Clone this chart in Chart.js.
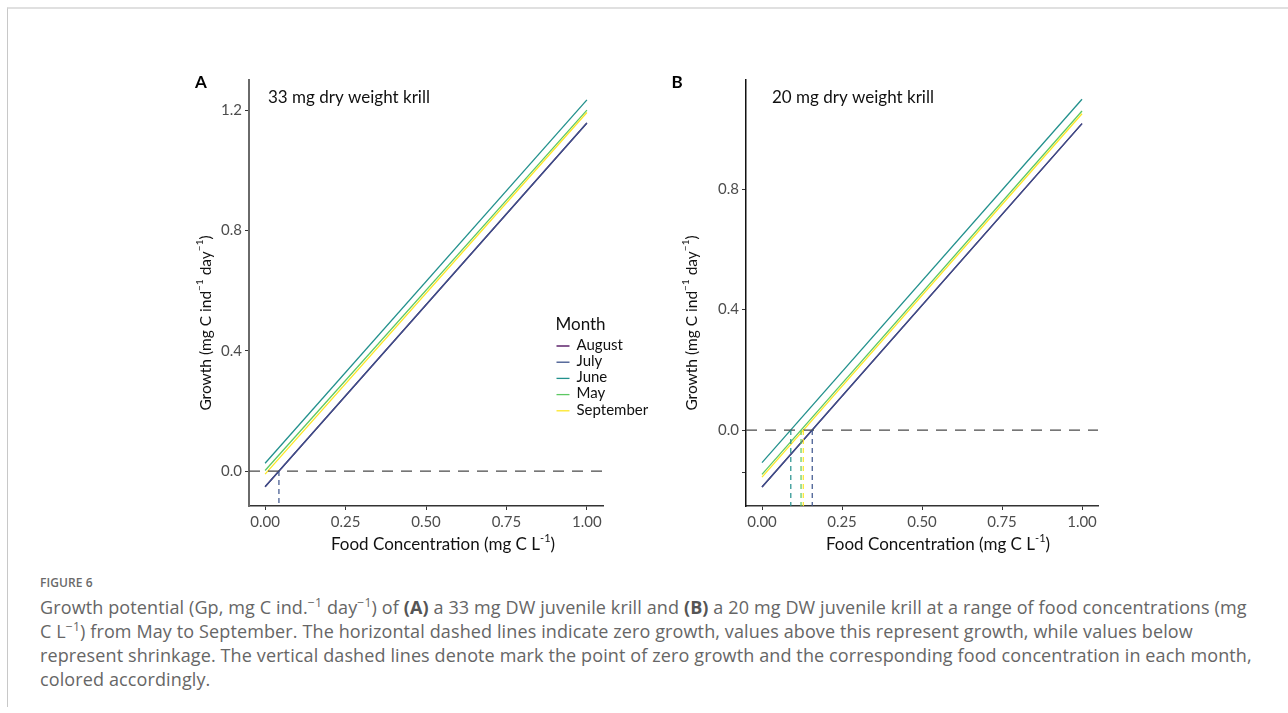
<!DOCTYPE html>
<html>
<head>
<meta charset="utf-8">
<script src="https://cdn.jsdelivr.net/npm/chart.js@4.4.1/dist/chart.umd.min.js"></script>
<style>
  html, body { margin: 0; padding: 0; background: #fff; }
  body { width: 1288px; height: 713px; position: relative; overflow: hidden; }
  #frame { position: absolute; left: 7px; top: 7px; width: 1300px; height: 698px;
           border-top: 2px solid #e0e0e0; border-left: 1px solid #c8c8c8; }
  canvas { position: absolute; }
  #panelA { left: 180px; top: 60px; }
  #panelB { left: 660px; top: 60px; }
  #caption { position: absolute; left: 40px; top: 571px; color: #666;
             font-family: 'Open Sans', sans-serif; font-size: 18px; letter-spacing: 0.12px;
             line-height: 24px; white-space: nowrap; }
  #caption .fig { font-size: 12px; font-weight: 600; color: #6a6a6a; letter-spacing: 0.1px; line-height: 24px; }
  #caption sup { font-size: 0.68em; line-height: 0; vertical-align: 0.55em; }
  #caption b { color: #555; }
</style>
</head>
<body>
<div id="frame"></div>
<canvas id="panelA" width="480" height="500"></canvas>
<canvas id="panelB" width="480" height="500"></canvas>
<div id="caption">
  <div class="fig">FIGURE 6</div>
  Growth potential (Gp, mg C ind.<sup>−1</sup> day<sup>−1</sup>) of <b>(A)</b> a 33 mg DW juvenile krill and <b>(B)</b> a 20 mg DW juvenile krill at a range of food concentrations (mg<br>
  C L<sup>−1</sup>) from May to September. The horizontal dashed lines indicate zero growth, values above this represent growth, while values below<br>
  represent shrinkage. The vertical dashed lines denote mark the point of zero growth and the corresponding food concentration in each month,<br>
  colored accordingly.
</div>
<script>
// Food concentration (mg C L-1) at the two ends of each growth line
const foodConc = [0, 1];
const months = ['August', 'July', 'June', 'May', 'September'];

// Growth potential (mg C ind-1 day-1), 33 mg DW krill
const growthA_August    = [-0.052, 1.157];
const growthA_July      = [-0.052, 1.157];
const growthA_June      = [ 0.026, 1.234];
const growthA_May       = [ 0.002, 1.200];
const growthA_September = [-0.010, 1.192];

// Growth potential (mg C ind-1 day-1), 20 mg DW krill
const growthB_August    = [-0.189, 1.017];
const growthB_July      = [-0.189, 1.017];
const growthB_June      = [-0.108, 1.098];
const growthB_May       = [-0.147, 1.059];
const growthB_September = [-0.156, 1.050];

// Food concentration at zero growth
const zeroMonthsA = ['July'];
const zeroFoodA   = [0.043];
const zeroMonthsB = ['June', 'May', 'September', 'July'];
const zeroFoodB   = [0.090, 0.122, 0.129, 0.157];

// Tick positions and labels
const xTicks = [0, 0.25, 0.5, 0.75, 1];
const xTickLabels = ['0.00', '0.25', '0.50', '0.75', '1.00'];
const yTicksA = [0, 0.4, 0.8, 1.2];
const yTickLabelsA = ['0.0', '0.4', '0.8', '1.2'];
const yTicksB = [-0.14, 0, 0.4, 0.8];
const yTickLabelsB = ['', '0.0', '0.4', '0.8'];

const monthColors = {
  August: '#440154', July: '#3B528B', June: '#21908C', May: '#5DC863', September: '#FDE725'
};
const FONT = 'Lato, "Open Sans", sans-serif';

// Later months in the list sit on top; reference lines go over everything
function buildDatasets(series, zeroMonths, zeroFood, yMin, xLim) {
  const n = months.length;
  const ds = months.map((m, k) => ({
    label: m,
    data: foodConc.map((f, i) => ({ x: f, y: series[m][i] })),
    borderColor: monthColors[m], borderWidth: 1.3,
    pointRadius: 0, fill: false, tension: 0, order: 10 + n - k
  }));
  ds.push({
    label: 'zero growth',
    data: [{ x: xLim[0], y: 0 }, { x: xLim[1], y: 0 }],
    borderColor: '#4a4a4a', borderWidth: 1.2, borderDash: [11, 8],
    pointRadius: 0, fill: false, order: 5
  });
  zeroMonths.forEach((m, i) => ds.push({
    label: m + ' zero growth',
    data: [{ x: zeroFood[i], y: 0 }, { x: zeroFood[i], y: yMin }],
    borderColor: monthColors[m], borderWidth: 1.2, borderDash: [5, 4],
    pointRadius: 0, fill: false, order: 1
  }));
  return ds;
}

// Draws text runs with superscripts, centred on (x, y)
function richText(ctx, parts, x, y, size) {
  const big = size + 'px ' + FONT, small = Math.round(size * 0.66) + 'px ' + FONT;
  let total = 0;
  parts.forEach(p => { ctx.font = p.sup ? small : big; total += ctx.measureText(p.t).width; });
  let cx = x - total / 2;
  ctx.textAlign = 'left';
  parts.forEach(p => {
    ctx.font = p.sup ? small : big;
    ctx.fillText(p.t, cx, p.sup ? y - size * 0.38 : y);
    cx += ctx.measureText(p.t).width;
  });
}

const decor = {
  id: 'decor',
  afterDraw(chart, args, o) {
    const ctx = chart.ctx;
    ctx.save();
    ctx.fillStyle = '#000';
    ctx.textBaseline = 'middle';
    ctx.textAlign = 'center';
    ctx.font = 'bold 17px ' + FONT;
    ctx.fillText(o.letter, o.letterX, o.letterY);

    ctx.fillStyle = '#111';
    ctx.textAlign = 'left';
    ctx.font = '17px ' + FONT;
    ctx.fillText(o.note, o.noteX, o.noteY);

    richText(ctx, [{ t: 'Food Concentration (mg C L' }, { t: '-1', sup: true }, { t: ')' }],
             o.xTitleX, o.xTitleY, 17);

    ctx.save();
    ctx.translate(o.yTitleX, o.yTitleY);
    ctx.rotate(-Math.PI / 2);
    richText(ctx, [{ t: 'Growth (mg C ind' }, { t: '−1', sup: true }, { t: ' day' }, { t: '−1', sup: true }, { t: ')' }],
             0, 0, 15.5);
    ctx.restore();

    if (o.legend) {
      const L = o.legend;
      ctx.textAlign = 'left';
      ctx.fillStyle = '#111';
      ctx.font = '17px ' + FONT;
      ctx.fillText('Month', L.x, L.y);
      ctx.font = '15px ' + FONT;
      months.forEach((m, i) => {
        const y = L.y + 20 + i * 16.2;
        ctx.strokeStyle = monthColors[m];
        ctx.lineWidth = 1.3;
        ctx.beginPath();
        ctx.moveTo(L.x + 1, y + 1);
        ctx.lineTo(L.x + 14, y + 1);
        ctx.stroke();
        ctx.fillStyle = '#111';
        ctx.fillText(m, L.x + 21, y);
      });
    }
    ctx.restore();
  }
};

function makeChart(id, series, zeroMonths, zeroFood, yMin, yMax, yTicks, yLabels, axisW, rightPad, yAxisColor, yAxisWidth, dec) {
  const xLim = [-0.05, 1.05];
  return new Chart(document.getElementById(id), {
    type: 'line',
    data: { datasets: buildDatasets(series, zeroMonths, zeroFood, yMin, xLim) },
    options: {
      responsive: false, animation: false, devicePixelRatio: 1,
      layout: { padding: { left: 0, right: rightPad, top: 20, bottom: 0 } },
      plugins: { legend: { display: false }, tooltip: { enabled: false }, decor: dec },
      scales: {
        x: {
          type: 'linear', min: xLim[0], max: xLim[1],
          afterBuildTicks: s => { s.ticks = xTicks.map(v => ({ value: v })); },
          afterFit: s => { s.height = 54; s.paddingLeft = 0; s.paddingRight = 0; },
          ticks: { callback: (v, i) => xTickLabels[i], autoSkip: false, maxRotation: 0,
                   font: { family: FONT, size: 15 }, color: '#4d4d4d', padding: 3 },
          grid: { drawOnChartArea: false, drawTicks: true, tickLength: 4, color: '#333', lineWidth: 1 },
          border: { display: true, color: '#333', width: 1.5 }
        },
        y: {
          type: 'linear', min: yMin, max: yMax,
          afterBuildTicks: s => { s.ticks = yTicks.map(v => ({ value: v })); },
          afterFit: s => { s.width = axisW; s.paddingTop = 0; s.paddingBottom = 0; },
          ticks: { callback: (v, i) => yLabels[i], autoSkip: false,
                   font: { family: FONT, size: 15 }, color: '#4d4d4d', padding: 3 },
          grid: { drawOnChartArea: false, drawTicks: true, tickLength: 4, color: '#333', lineWidth: 1 },
          border: { display: true, color: yAxisColor, width: yAxisWidth }
        }
      }
    },
    plugins: [decor]
  });
}

function draw() {
  const seriesA = { August: growthA_August, July: growthA_July, June: growthA_June, May: growthA_May, September: growthA_September };
  const seriesB = { August: growthB_August, July: growthB_July, June: growthB_June, May: growthB_May, September: growthB_September };

  makeChart('panelA', seriesA, zeroMonthsA, zeroFoodA, -0.116, 1.300, yTicksA, yTickLabelsA, 69, 57, '#6a6a6a', 2, {
    letter: 'A', letterX: 21, letterY: 23,
    note: '33 mg dry weight krill', noteX: 88, noteY: 38,
    xTitleX: 263, xTitleY: 485, yTitleX: 26, yTitleY: 263,
    legend: { x: 375.5, y: 265 }
  });
  makeChart('panelB', seriesB, zeroMonthsB, zeroFoodB, -0.252, 1.162, yTicksB, yTickLabelsB, 86, 42, '#111', 1.5, {
    letter: 'B', letterX: 17, letterY: 23,
    note: '20 mg dry weight krill', noteX: 112, noteY: 38,
    xTitleX: 278, xTitleY: 485, yTitleX: 32, yTitleY: 263
  });
}

Promise.all([
  document.fonts.load('16px Lato'), document.fonts.load('bold 16px Lato'), document.fonts.load('18px "Open Sans"')
]).then(draw, draw);
</script>
</body>
</html>
